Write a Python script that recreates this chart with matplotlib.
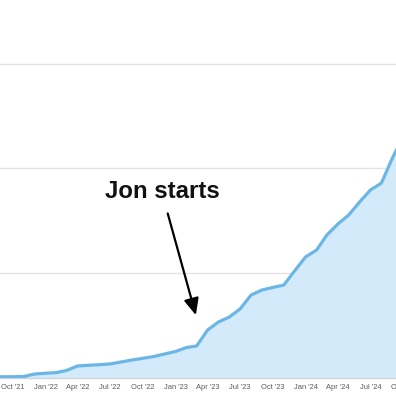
import matplotlib
matplotlib.use("Agg")
import matplotlib.pyplot as plt
import matplotlib.dates as mdates
import numpy as np
import datetime as dt

months = ["2021-08-01", "2021-09-01", "2021-10-01", "2021-11-01", "2021-12-01",
          "2022-01-01", "2022-02-01", "2022-03-01", "2022-04-01", "2022-05-01",
          "2022-06-01", "2022-07-01", "2022-08-01", "2022-09-01", "2022-10-01",
          "2022-11-01", "2022-12-01", "2023-01-01", "2023-02-01", "2023-03-01",
          "2023-04-01", "2023-05-01", "2023-06-01", "2023-07-01", "2023-08-01",
          "2023-09-01", "2023-10-01", "2023-11-01", "2023-12-01", "2024-01-01",
          "2024-02-01", "2024-03-01", "2024-04-01", "2024-05-01", "2024-06-01",
          "2024-07-01", "2024-08-01", "2024-09-01", "2024-09-15"]
values = [1.2, 1.2, 1.2, 1.4, 3.8,
          4.5, 5.2, 7.2, 11.5, 12.1,
          12.7, 13.4, 15.3, 17.2, 18.8,
          20.5, 22.9, 25.3, 29.1, 30.5,
          45.8, 53.4, 58.2, 65.8, 79.2,
          84.0, 86.4, 88.7, 102.1, 115.5,
          122.1, 136.5, 147.0, 155.5, 168.0,
          179.4, 186.0, 210.0, 219.5]
tick_dates = ["2021-10-01", "2022-01-01", "2022-04-01", "2022-07-01", "2022-10-01",
              "2023-01-01", "2023-04-01", "2023-07-01", "2023-10-01", "2024-01-01",
              "2024-04-01", "2024-07-01", "2024-10-01"]
annotation_text = "Jon starts"

dates = [dt.datetime.strptime(d, "%Y-%m-%d") for d in months]
ticks = [dt.datetime.strptime(d, "%Y-%m-%d") for d in tick_dates]

fig = plt.figure(figsize=(3.96, 3.96), dpi=100)
ax = fig.add_axes([0, 18/396, 1, 378/396])

line_c = "#6cb6e6"
fill_c = "#d3eafa"
ax.fill_between(dates, values, 0, color=fill_c, lw=0, zorder=1)
ax.plot(dates, values, color=line_c, lw=2.3, solid_joinstyle="round", solid_capstyle="round", zorder=3)

ax.set_yticks([100, 200, 300])
ax.yaxis.grid(True, color="#e4e4e4", lw=1.0, zorder=0)
ax.set_axisbelow(True)
ax.tick_params(axis="y", left=False, labelleft=False)
ax.set_xticks(ticks)
fmt = mdates.DateFormatter("%b '%y")
ax.xaxis.set_major_formatter(fmt)
ax.tick_params(axis="x", length=0, pad=4.5, labelsize=5.4, labelcolor="#5a5a5a")
for lab in ax.get_xticklabels():
    lab.set_fontfamily("Liberation Sans")
xmin, xmax = dt.datetime(2021, 8, 26), dt.datetime(2024, 9, 11)
ax.set_xlim(xmin, xmax)
ax.set_ylim(0, 360.7)
# tick labels that fall just past the right edge (partly visible in the reference)
for t in ticks:
    if t > xmax:
        ax.text(t, -4.5 / 72 * 100 / (378 / 360.7) * 0, fmt(mdates.date2num(t)), ha="center", va="top",
                fontsize=5.4, color="#5a5a5a", family="Liberation Sans", clip_on=False,
                transform=ax.get_xaxis_transform(), )
for s in ["top", "left", "right"]:
    ax.spines[s].set_visible(False)
ax.spines["bottom"].set_color("#cdd5dd")
ax.spines["bottom"].set_linewidth(1.0)

# place the extra label at the same offset as real tick labels
for txt in ax.texts:
    txt.set_y(0)
    txt.set_transform(ax.get_xaxis_transform() + matplotlib.transforms.ScaledTranslation(0, -4.5 / 72, fig.dpi_scale_trans))

ax.text(dt.datetime(2022, 11, 26), 178.4, annotation_text, ha="center", va="center",
        fontsize=17.3, fontweight="bold", family="Liberation Sans", color="#111111")
ax.annotate("", xy=(dt.datetime(2023, 2, 27), 60), xytext=(dt.datetime(2022, 12, 10), 157),
            arrowprops=dict(arrowstyle="-|>,head_length=1.0,head_width=0.45", color="black", lw=1.6,
                            shrinkA=0, shrinkB=0))

fig.savefig("out.png", dpi=100)
